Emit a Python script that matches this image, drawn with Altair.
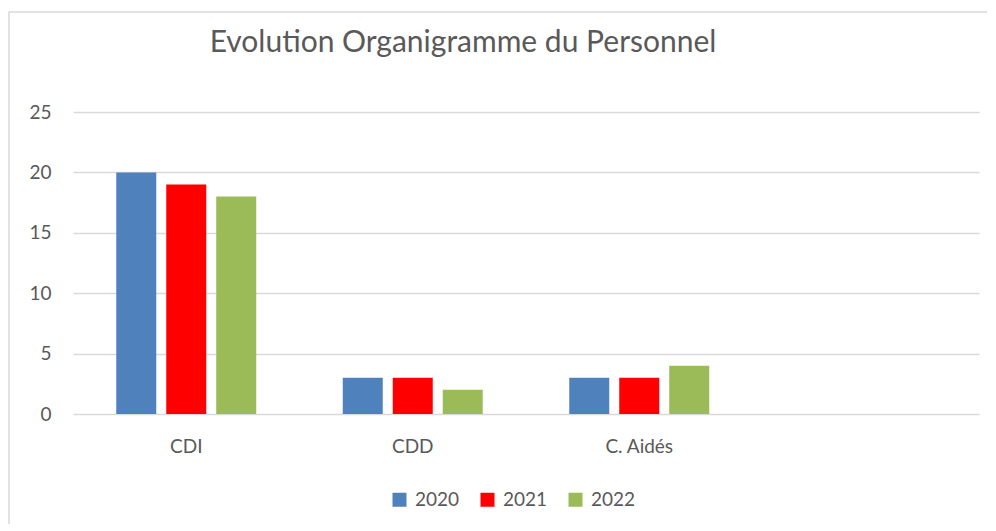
import altair as alt
import pandas as pd

categories = ["CDI", "CDD", "C. Aidés"]
years = ["2020", "2021", "2022"]
v2020 = [20, 3, 3]
v2021 = [19, 3, 3]
v2022 = [18, 2, 4]
colors = ["#4f81bd", "#ff0000", "#9bbb59"]
y_ticks = [0, 5, 10, 15, 20, 25]
title_text = "Evolution Organigramme du Personnel"

rows = []
for i, c in enumerate(categories):
    for y, vals in zip(years, [v2020, v2021, v2022]):
        rows.append({"cat": c, "year": y, "value": vals[i]})
df = pd.DataFrame(rows)

FONT = "Lato"
GREY = "#595959"

bars = alt.Chart(df).mark_bar().encode(
    x=alt.X("cat:N", sort=None,
            scale=alt.Scale(domain=categories + [" "], paddingInner=0.382, paddingOuter=0.191),
            axis=alt.Axis(title=None, labelAngle=0, ticks=False, domain=False, grid=False,
                          labelFont=FONT, labelFontSize=19, labelColor=GREY, labelPadding=23)),
    xOffset=alt.XOffset("year:N", scale=alt.Scale(paddingInner=0.2, paddingOuter=0)),
    y=alt.Y("value:Q", scale=alt.Scale(domain=[0, 25], nice=False),
            axis=alt.Axis(title=None, values=y_ticks, ticks=False, domain=False,
                          gridColor="#d9d9d9", gridWidth=1.3,
                          labelFont=FONT, labelFontSize=19, labelColor=GREY, labelPadding=22)),
    color=alt.Color("year:N", scale=alt.Scale(domain=years, range=colors),
                    legend=alt.Legend(title=None, orient="none", direction="horizontal",
                                      legendX=317, legendY=378, symbolType="square",
                                      symbolSize=196, symbolStrokeWidth=0, labelOffset=6,
                                      columnPadding=18, labelFont=FONT, labelFontSize=19,
                                      labelColor=GREY)),
)

frame = alt.Chart(pd.DataFrame({"k": [0]})).mark_rect(
    fill="transparent", stroke="#d9d9d9", strokeWidth=1.5
).encode(
    x=alt.value(-64), x2=alt.value(1200), y=alt.value(-100), y2=alt.value(800)
)

chart = alt.layer(frame, bars).properties(
    width=906, height=302,
    title=alt.TitleParams(title_text, font=FONT, fontSize=30, fontWeight="normal",
                          color=GREY, anchor="middle", dx=-63, offset=0, dy=47),
    autosize=alt.AutoSizeParams(type="none"),
    padding={"left": 65, "top": 104, "right": 8, "bottom": 110},
).configure_view(stroke=None)

chart.save("out.html", embed_options={"renderer": "svg", "actions": False})
